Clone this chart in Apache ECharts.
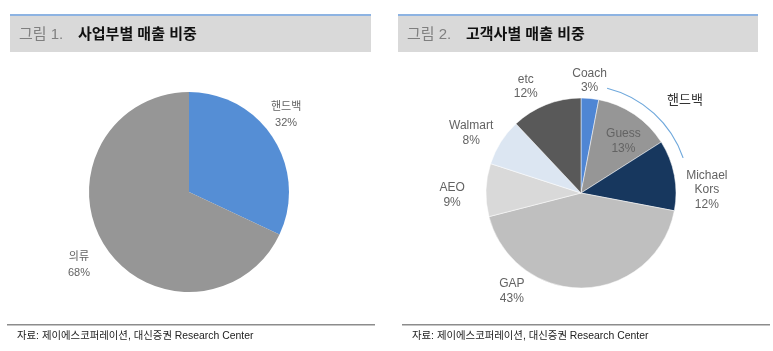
<!DOCTYPE html>
<html>
<head>
<meta charset="utf-8">
<script src="https://cdn.jsdelivr.net/npm/echarts@6/dist/echarts.min.js"></script>
<style>
    html, body { margin: 0; padding: 0; background: #fff; }
    #chart1 { width: 773px; height: 351px; }
</style>
</head>
<body>
<div id="chart1"></div>
<script>
// 그림 1 사업부별 매출 비중
var bizNames = ['핸드백', '의류'];
var bizValues = [32, 68];
var bizColors = ['#558ED5', '#969696'];

// 그림 2 고객사별 매출 비중
var custNames = ['Coach', 'Guess', 'Michael\nKors', 'GAP', 'AEO', 'Walmart', 'etc'];
var custValues = [3, 13, 12, 43, 9, 8, 12];
var custColors = ['#4F86D4', '#969696', '#17375E', '#BFBFBF', '#D9D9D9', '#DCE6F2', '#595959'];

var font = 'Liberation Sans, Noto Sans CJK KR, sans-serif';
var labelColor = '#636363';
var sourceText = '자료: 제이에스코퍼레이션, 대신증권 Research Center';

// 라벨 미세조정 (엑셀에서 옮겨놓은 위치 맞춤)
var labelShift = {
    '핸드백': [-11, -8],
    '의류': [-2, 4],
    'Coach': [-3, 10],
    'Guess': [14, -10],
    'Michael\nKors': [5, 20],
    'GAP': [-73, -25],
    'AEO': [-6, 6],
    'Walmart': [-6, 6],
    'etc': [-10, 8]
};

function pieData(names, values, colors) {
    var list = [];
    for (var i = 0; i < names.length; i++) {
        list.push({ name: names[i], value: values[i], itemStyle: { color: colors[i] } });
    }
    return list;
}

function labelData(names, values, skip) {
    var list = [];
    for (var i = 0; i < names.length; i++) {
        var item = { name: names[i], value: values[i] };
        if (labelShift[names[i]]) item.label = { offset: labelShift[names[i]] };
        if (skip && skip.indexOf(names[i]) > -1) item.label = { show: false };
        list.push(item);
    }
    return list;
}

function header(x, w, no, title) {
    return [{
        type: 'rect', shape: { x: x, y: 16, width: w, height: 36 },
        style: { fill: '#D9D9D9' }, silent: true
    }, {
        type: 'rect', shape: { x: x, y: 14, width: w, height: 2 },
        style: { fill: '#8DB3E2' }, silent: true
    }, {
        type: 'text', x: x + 9, y: 35,
        style: { text: no, font: '15px ' + font, fill: '#7F7F7F', verticalAlign: 'middle' }
    }, {
        type: 'text', x: x + 68, y: 35,
        style: { text: title, font: 'bold 15px ' + font, fill: '#111', verticalAlign: 'middle' }
    }];
}

function footer(x, w) {
    return [{
        type: 'rect', shape: { x: x, y: 324, width: w, height: 1.5 },
        style: { fill: '#8C8C8C' }, silent: true
    }, {
        type: 'text', x: x + 10, y: 336,
        style: { text: sourceText, font: '10.4px ' + font, fill: '#222', verticalAlign: 'middle' }
    }];
}

function makeLabel(size, lh) {
    return {
        show: true,
        position: 'inside',
        formatter: function(p) { return p.name + '\n' + p.value + '%'; },
        color: labelColor,
        fontSize: size,
        fontWeight: 'normal',
        lineHeight: lh,
        fontFamily: font
    };
}

var graphics = [].concat(
    header(10, 361, '그림 1.', '사업부별 매출 비중'),
    header(398, 360, '그림 2.', '고객사별 매출 비중'),
    footer(7, 368),
    footer(402, 368),
    [{
        type: 'arc',
        shape: { cx: 581, cy: 193, r: 108, startAngle: -76 * Math.PI / 180, endAngle: -19 * Math.PI / 180 },
        style: { stroke: '#6FA8DC', lineWidth: 1.2, fill: null }, silent: true
    }, {
        type: 'text', x: 685, y: 100,
        style: { text: '핸드백', font: '13px ' + font, fill: '#333', align: 'center', verticalAlign: 'middle' }
    }]
);

var chart1 = echarts.init(document.getElementById('chart1'));
var custPie = pieData(custNames, custValues, custColors);
custPie.forEach(function(d) {
    if (d.name == 'Guess') d.label = { show: true, offset: labelShift['Guess'] };
    else d.label = { show: false };
});

var option = {
    animation: false,
    backgroundColor: '#fff',
    graphic: graphics,
    series: [{
        type: 'pie',
        center: [189, 192],
        radius: [0, 100],
        label: { show: false },
        labelLine: { show: false },
        silent: true,
        data: pieData(bizNames, bizValues, bizColors)
    }, {
        // 바깥 라벨용 투명 링
        type: 'pie',
        center: [189, 192],
        radius: [100, 150],
        silent: true,
        itemStyle: { color: 'transparent' },
        label: makeLabel(11, 16),
        labelLine: { show: false },
        data: labelData(bizNames, bizValues)
    }, {
        type: 'pie',
        center: [581, 193],
        radius: [0, 95],
        silent: true,
        itemStyle: { borderColor: '#fff', borderWidth: 0.5 },
        label: makeLabel(12, 14.5),
        labelLine: { show: false },
        data: custPie
    }, {
        type: 'pie',
        center: [581, 193],
        radius: [95, 145],
        silent: true,
        itemStyle: { color: 'transparent' },
        label: makeLabel(12, 14.5),
        labelLine: { show: false },
        data: labelData(custNames, custValues, ['Guess'])
    }]
};
chart1.setOption(option);
</script>
</body>
</html>
